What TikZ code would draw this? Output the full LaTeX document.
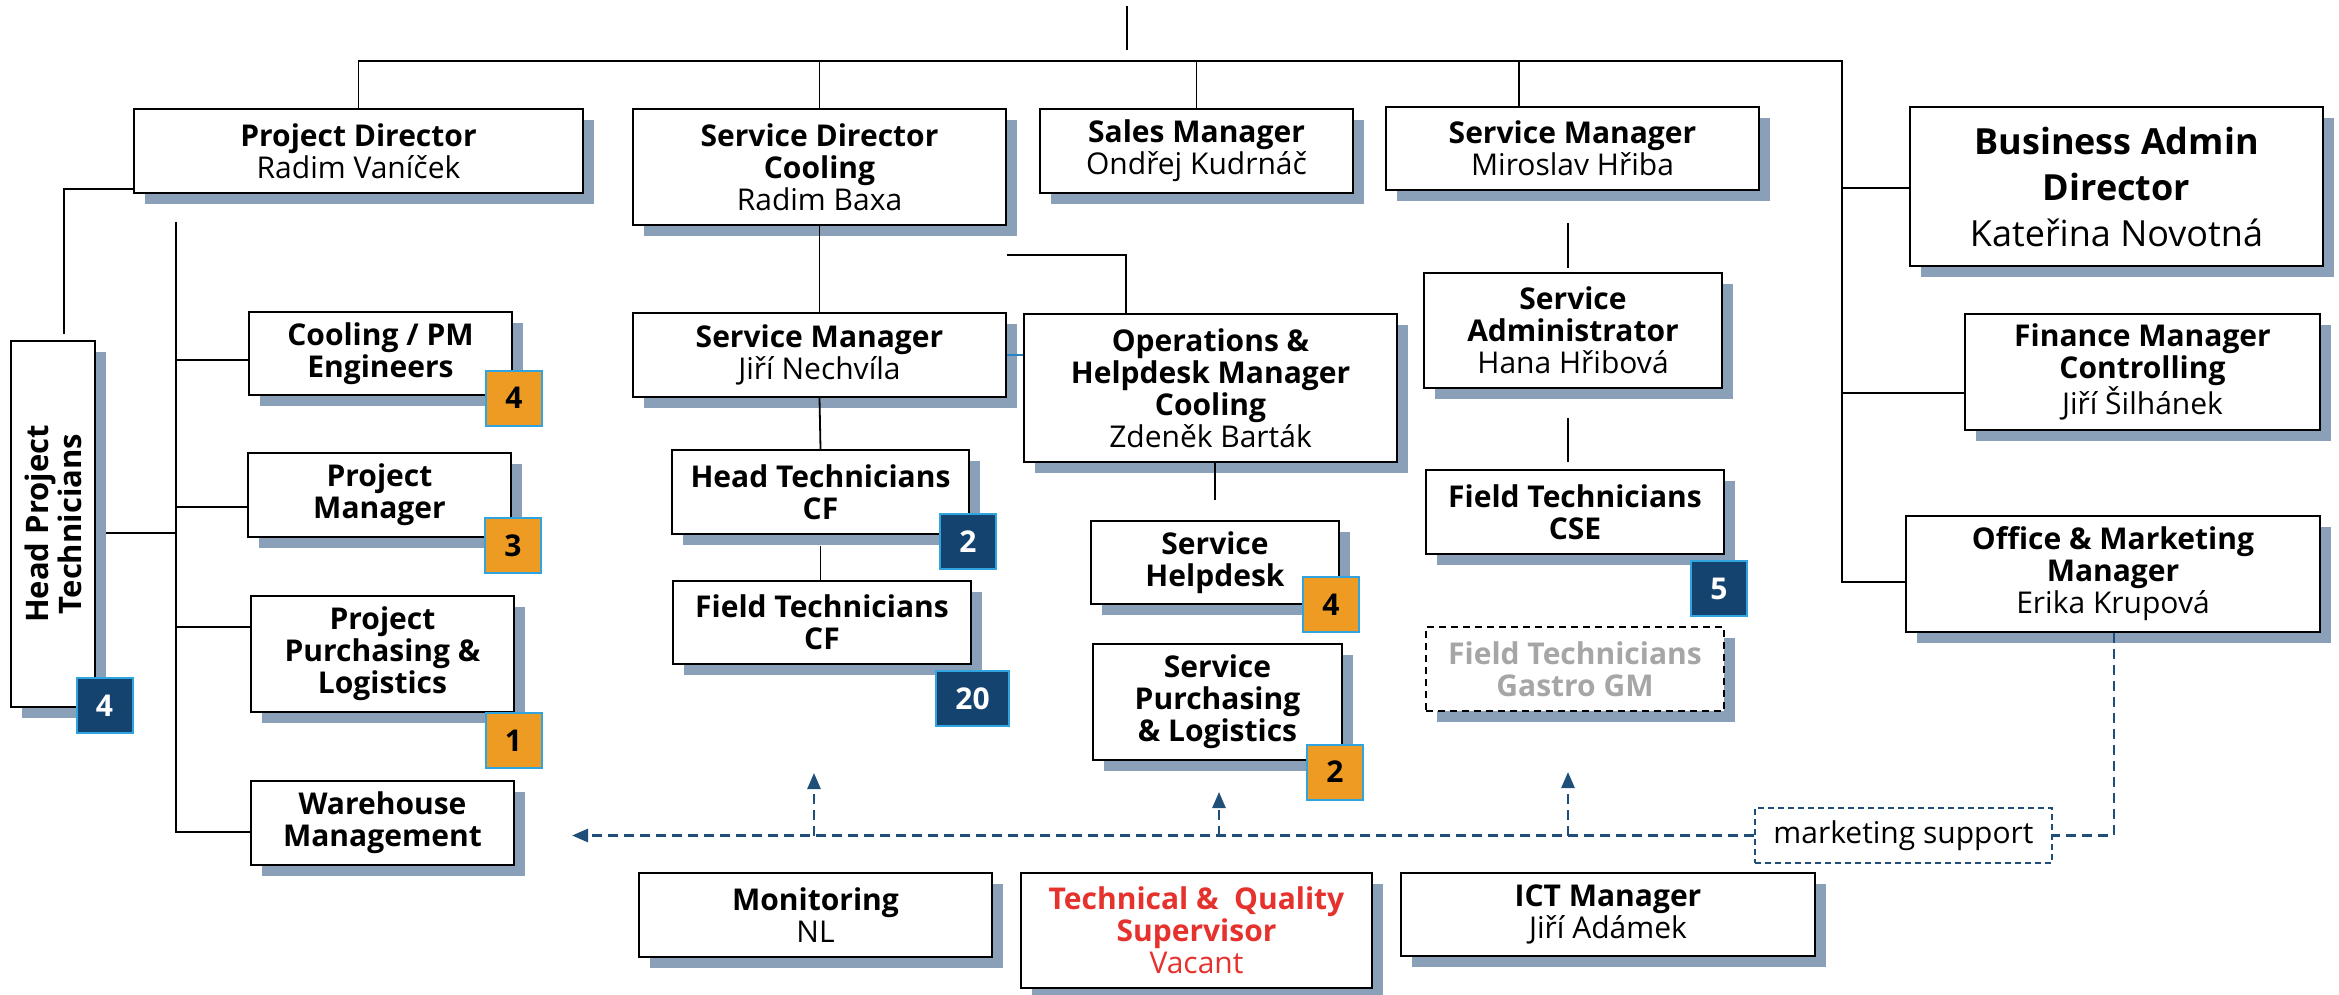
\documentclass[tikz,border=0pt]{standalone}
\usepackage{fontspec}
\setmainfont{Open Sans}
\usetikzlibrary{shadows,arrows.meta,calc}
\definecolor{shadowc}{RGB}{137,160,184}
\definecolor{orangec}{RGB}{237,155,35}
\definecolor{navyc}{RGB}{21,67,112}
\definecolor{badgeedge}{RGB}{47,164,222}
\definecolor{dashblue}{RGB}{31,78,121}
\definecolor{redtext}{RGB}{230,50,45}
\definecolor{graytext}{RGB}{166,166,166}
\definecolor{thinblue}{RGB}{40,130,200}
\tikzset{
  orgbox/.style={draw=black, line width=2.2pt, fill=white, align=center, inner sep=0pt,
    font=\fontsize{30}{32}\selectfont,
    general shadow={fill=shadowc, shadow xshift=11pt, shadow yshift=-11pt}},
  badge/.style={draw=badgeedge, line width=2pt, minimum width=56pt, minimum height=55pt,
    inner sep=0pt, font=\bfseries\fontsize{30}{32}\selectfont},
  orangebadge/.style={badge, fill=orangec, text=black},
  navybadge/.style={badge, fill=navyc, text=white},
  conn/.style={draw=black, line width=1.8pt},
  dashline/.style={draw=dashblue, line width=2.6pt, dash pattern=on 10pt off 6pt},
  dasharrow/.style={dashline, -{Triangle[length=16pt,width=13pt]}},
}
\begin{document}
\begin{tikzpicture}[x=1pt,y=-1pt]
\useasboundingbox (0,0) rectangle (2339,995);

% ---- boxes ----
\node[orgbox, minimum width=449pt, minimum height=84pt] (pd) at (358.5,151) {\textbf{Project Director}\\Radim Vaníček};
\node[orgbox, minimum width=373pt, minimum height=116pt] (sdc) at (819.5,167) {\textbf{Service Director}\\\textbf{Cooling}\\Radim Baxa};
\node[orgbox, minimum width=313pt, minimum height=84pt] (sales) at (1196.5,151) {\textbf{Sales Manager}\\Ondřej Kudrnáč};
\node[orgbox, minimum width=373pt, minimum height=83pt] (smm) at (1572.5,148.5) {\textbf{Service Manager}\\Miroslav Hřiba};
\node[orgbox, minimum width=413pt, minimum height=159pt, font=\fontsize{36}{46}\selectfont] (bad) at (2116.5,186.5) {\textbf{Business Admin}\\\textbf{Director}\\Kateřina Novotná};
\node[orgbox, minimum width=355pt, minimum height=116pt] (fin) at (2142.5,372) {\textbf{Finance Manager}\\\textbf{Controlling}\\Jiří Šilhánek};
\node[orgbox, minimum width=414pt, minimum height=116pt] (ofm) at (2113,574) {\textbf{Office \& Marketing}\\\textbf{Manager}\\Erika Krupová};

\node[orgbox, minimum width=84pt, minimum height=366pt] (hpt) at (53,524) {\rotatebox{90}{\parbox{340pt}{\centering\bfseries\fontsize{31}{33}\selectfont Head Project\\Technicians}}};
\node[orgbox, minimum width=263pt, minimum height=83pt] (cool) at (380.5,353.5) {\textbf{Cooling / PM}\\\textbf{Engineers}};
\node[orgbox, minimum width=263pt, minimum height=84pt] (pm) at (379.5,495) {\textbf{Project}\\\textbf{Manager}};
\node[orgbox, minimum width=263pt, minimum height=116pt] (ppl) at (382.5,654) {\textbf{Project}\\\textbf{Purchasing \&}\\\textbf{Logistics}};
\node[orgbox, minimum width=263pt, minimum height=84pt] (wh) at (382.5,823) {\textbf{Warehouse}\\\textbf{Management}};

\node[orgbox, minimum width=373pt, minimum height=84pt] (smj) at (819.5,355) {\textbf{Service Manager}\\Jiří Nechvíla};
\node[orgbox, minimum width=373pt, minimum height=148pt] (ops) at (1210.5,388) {\textbf{Operations \&}\\\textbf{Helpdesk Manager}\\\textbf{Cooling}\\Zdeněk Barták};
\node[orgbox, minimum width=297pt, minimum height=84pt] (htcf) at (820.5,492) {\textbf{Head Technicians}\\\textbf{CF}};
\node[orgbox, minimum width=298pt, minimum height=83pt] (ftcf) at (822,622.5) {\textbf{Field Technicians}\\\textbf{CF}};
\node[orgbox, minimum width=248pt, minimum height=83pt] (shd) at (1215,562.5) {\textbf{Service}\\\textbf{Helpdesk}};
\node[orgbox, minimum width=249pt, minimum height=116pt] (spl) at (1217.5,702) {\textbf{Service}\\\textbf{Purchasing}\\\textbf{\& Logistics}};

\node[orgbox, minimum width=298pt, minimum height=115pt] (sadm) at (1573,330.5) {\textbf{Service}\\\textbf{Administrator}\\Hana Hřibová};
\node[orgbox, minimum width=298pt, minimum height=84pt] (ftcse) at (1575,512) {\textbf{Field Technicians}\\\textbf{CSE}};
\node[orgbox, dash pattern=on 7pt off 5pt, text=graytext, minimum width=298pt, minimum height=84pt] (gastro) at (1575,669) {\textbf{Field Technicians}\\\textbf{Gastro GM}};

\node[orgbox, minimum width=353pt, minimum height=84pt] (mon) at (815.5,915) {\textbf{Monitoring}\\NL};
\node[orgbox, text=redtext, minimum width=351pt, minimum height=115pt] (tqs) at (1196.5,930.5) {\textbf{Technical \&\ \ Quality}\\\textbf{Supervisor}\\Vacant};
\node[orgbox, minimum width=414pt, minimum height=83pt] (ict) at (1608,914.5) {\textbf{ICT Manager}\\Jiří Adámek};

\node[draw=dashblue, line width=2pt, dash pattern=on 6pt off 4pt, fill=white, minimum width=297pt, minimum height=55pt, inner sep=0pt, font=\fontsize{30}{32}\selectfont] (mks) at (1903.5,835.5) {marketing support};

% ---- badges ----
\node[orangebadge] (bcool) at (514,398) {4};
\node[orangebadge] (bpm) at (513,545.5) {3};
\node[orangebadge] (bppl) at (513.5,740.5) {1};
\node[navybadge] (bhpt) at (104.5,705.5) {4};
\node[navybadge] (bhtcf) at (968,541.5) {2};
\node[navybadge, minimum width=73pt] (bftcf) at (972.5,698.5) {20};
\node[orangebadge] (bshd) at (1331,604.5) {4};
\node[orangebadge] (bspl) at (1335,772) {2};
\node[navybadge] (bcse) at (1719,588.5) {5};

% ---- solid connectors ----
\coordinate (stubA) at (1127,6);
\coordinate (stubB) at (1127,50);
\coordinate (rv) at (1842,61);
\coordinate (ofmB) at (1842,582);
\coordinate (smmT) at (1519,61);
\draw[conn] (stubA) -- (stubB);
\draw[conn] (pd.north) -- (pd.north |- rv) -- (rv) -- (ofmB) -- (ofmB -| ofm.west);
\draw[conn] (sdc.north) -- (sdc.north |- rv);
\draw[conn] (sales.north) -- (sales.north |- rv);
\draw[conn] (smmT) -- (smmT |- smm.north);
\draw[conn] (1842,188) -- (bad.west |- 0,188);
\draw[conn] (1842,393) -- (fin.west |- 0,393);

\coordinate (pdL) at (64,189);
\coordinate (hptT) at (64,334);
\draw[conn] (pdL -| pd.west) -- (pdL) -- (hptT);
\coordinate (br0) at (176,222);
\coordinate (br1) at (176,832);
\draw[conn] (br0) -- (br1) -- (br1 -| wh.west);
\draw[conn] (176,360) -- (cool.west |- 0,360);
\draw[conn] (176,507) -- (pm.west |- 0,507);
\draw[conn] (176,627) -- (ppl.west |- 0,627);
\draw[conn] ($(hpt.east |- 0,533)+(10,0)$) -- (176,533);

\draw[conn] (sdc.south) -- (smj.north);
\coordinate (opsL) at (1007,255);
\draw[conn] (opsL) -| (ops.north -| 1126,0);
\draw[line width=1.8pt, thinblue] (smj.east) -- (ops.west |- smj.east);
\draw[conn] (smj.south) -- (htcf.north);
\draw[conn] ($(htcf.south)+(0,11)$) -- (ftcf.north -| htcf.south);
\draw[conn] (ops.south -| shd.north) -- ++(0,37);
\coordinate (saA) at (1568,223);
\coordinate (saB) at (1568,268);
\draw[conn] (saA) -- (saB);
\coordinate (cseA) at (1568,418);
\coordinate (cseB) at (1568,462);
\draw[conn] (cseA) -- (cseB);

% ---- dashed connectors ----
\coordinate (tipW) at (572,835.5);
\draw[dasharrow] (mks.west) -- (tipW);
\draw[dashline] (ofm.south -| 2114,0) |- (mks.east);
\coordinate (up1) at (814,835.5);
\coordinate (up2) at (1219,835.5);
\coordinate (up3) at (1568,835.5);
\draw[dasharrow] (up1) -- (814,773);
\draw[dasharrow] (up2) -- (1219,792);
\draw[dasharrow] (up3) -- (1568,772);
\end{tikzpicture}
\end{document}
